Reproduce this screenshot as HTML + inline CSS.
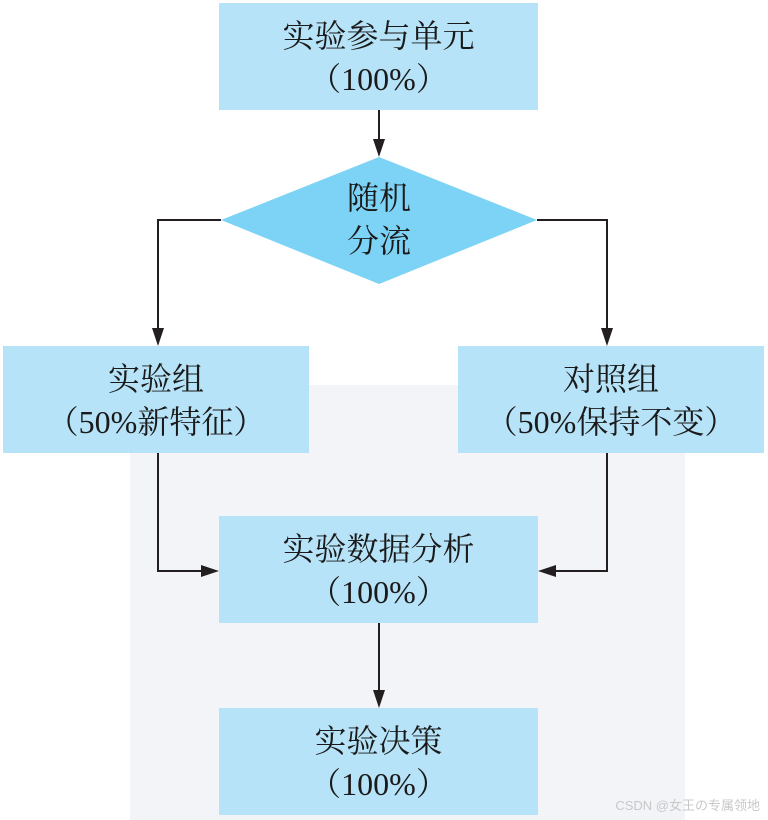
<!DOCTYPE html>
<html><head><meta charset="utf-8"><style>
html,body{margin:0;padding:0;background:#fff;}
body{width:768px;height:820px;position:relative;overflow:hidden;font-family:"Liberation Serif","Noto Serif CJK SC",serif;color:#1a1a1a;}
.wm{position:absolute;left:130px;top:385px;width:555px;height:435px;background:#f3f4f8;}
.b{position:absolute;background:#b6e3f7;text-align:center;font-size:32px;line-height:43px;box-sizing:border-box;padding-top:12px;}
svg{position:absolute;left:0;top:0;}
.t{position:absolute;font-size:32px;line-height:43px;text-align:center;}
.csdn{position:absolute;right:8px;bottom:6px;font-family:"Liberation Sans","Noto Sans CJK SC",sans-serif;font-size:13px;color:#c8c8c8;}
</style></head><body>
<div class="wm"></div>
<div class="b" style="left:219px;top:3px;width:319px;height:107px;">实验参与单元<br>（100%）</div>
<div class="b" style="left:3px;top:346px;width:306px;height:107px;">实验组<br>（50%新特征）</div>
<div class="b" style="left:458px;top:346px;width:306px;height:107px;">对照组<br>（50%保持不变）</div>
<div class="b" style="left:219px;top:516px;width:319px;height:107px;">实验数据分析<br>（100%）</div>
<div class="b" style="left:219px;top:708px;width:319px;height:107px;">实验决策<br>（100%）</div>
<svg width="768" height="820">
<polygon points="221,220 379,157 537,220 379,284" fill="#7dd3f5"/>
<g stroke="#231f20" stroke-width="2" fill="none">
<line x1="379" y1="110" x2="379" y2="145"/>
<polyline points="221,220 158,220 158,334"/>
<polyline points="537,220 607,220 607,334"/>
<polyline points="158,453 158,571 207,571"/>
<polyline points="607,453 607,571 550,571"/>
<line x1="379" y1="623" x2="379" y2="696"/>
</g>
<g fill="#231f20">
<polygon points="373,139 385,139 379,157"/>
<polygon points="152,328 164,328 158,346"/>
<polygon points="601,328 613,328 607,346"/>
<polygon points="201,565 201,577 219,571"/>
<polygon points="556,565 556,577 538,571"/>
<polygon points="373,690 385,690 379,708"/>
</g>
</svg>
<div class="t" style="left:329px;top:177px;width:100px;">随机<br>分流</div>
<div class="csdn">CSDN @女王の专属领地</div>
</body></html>
